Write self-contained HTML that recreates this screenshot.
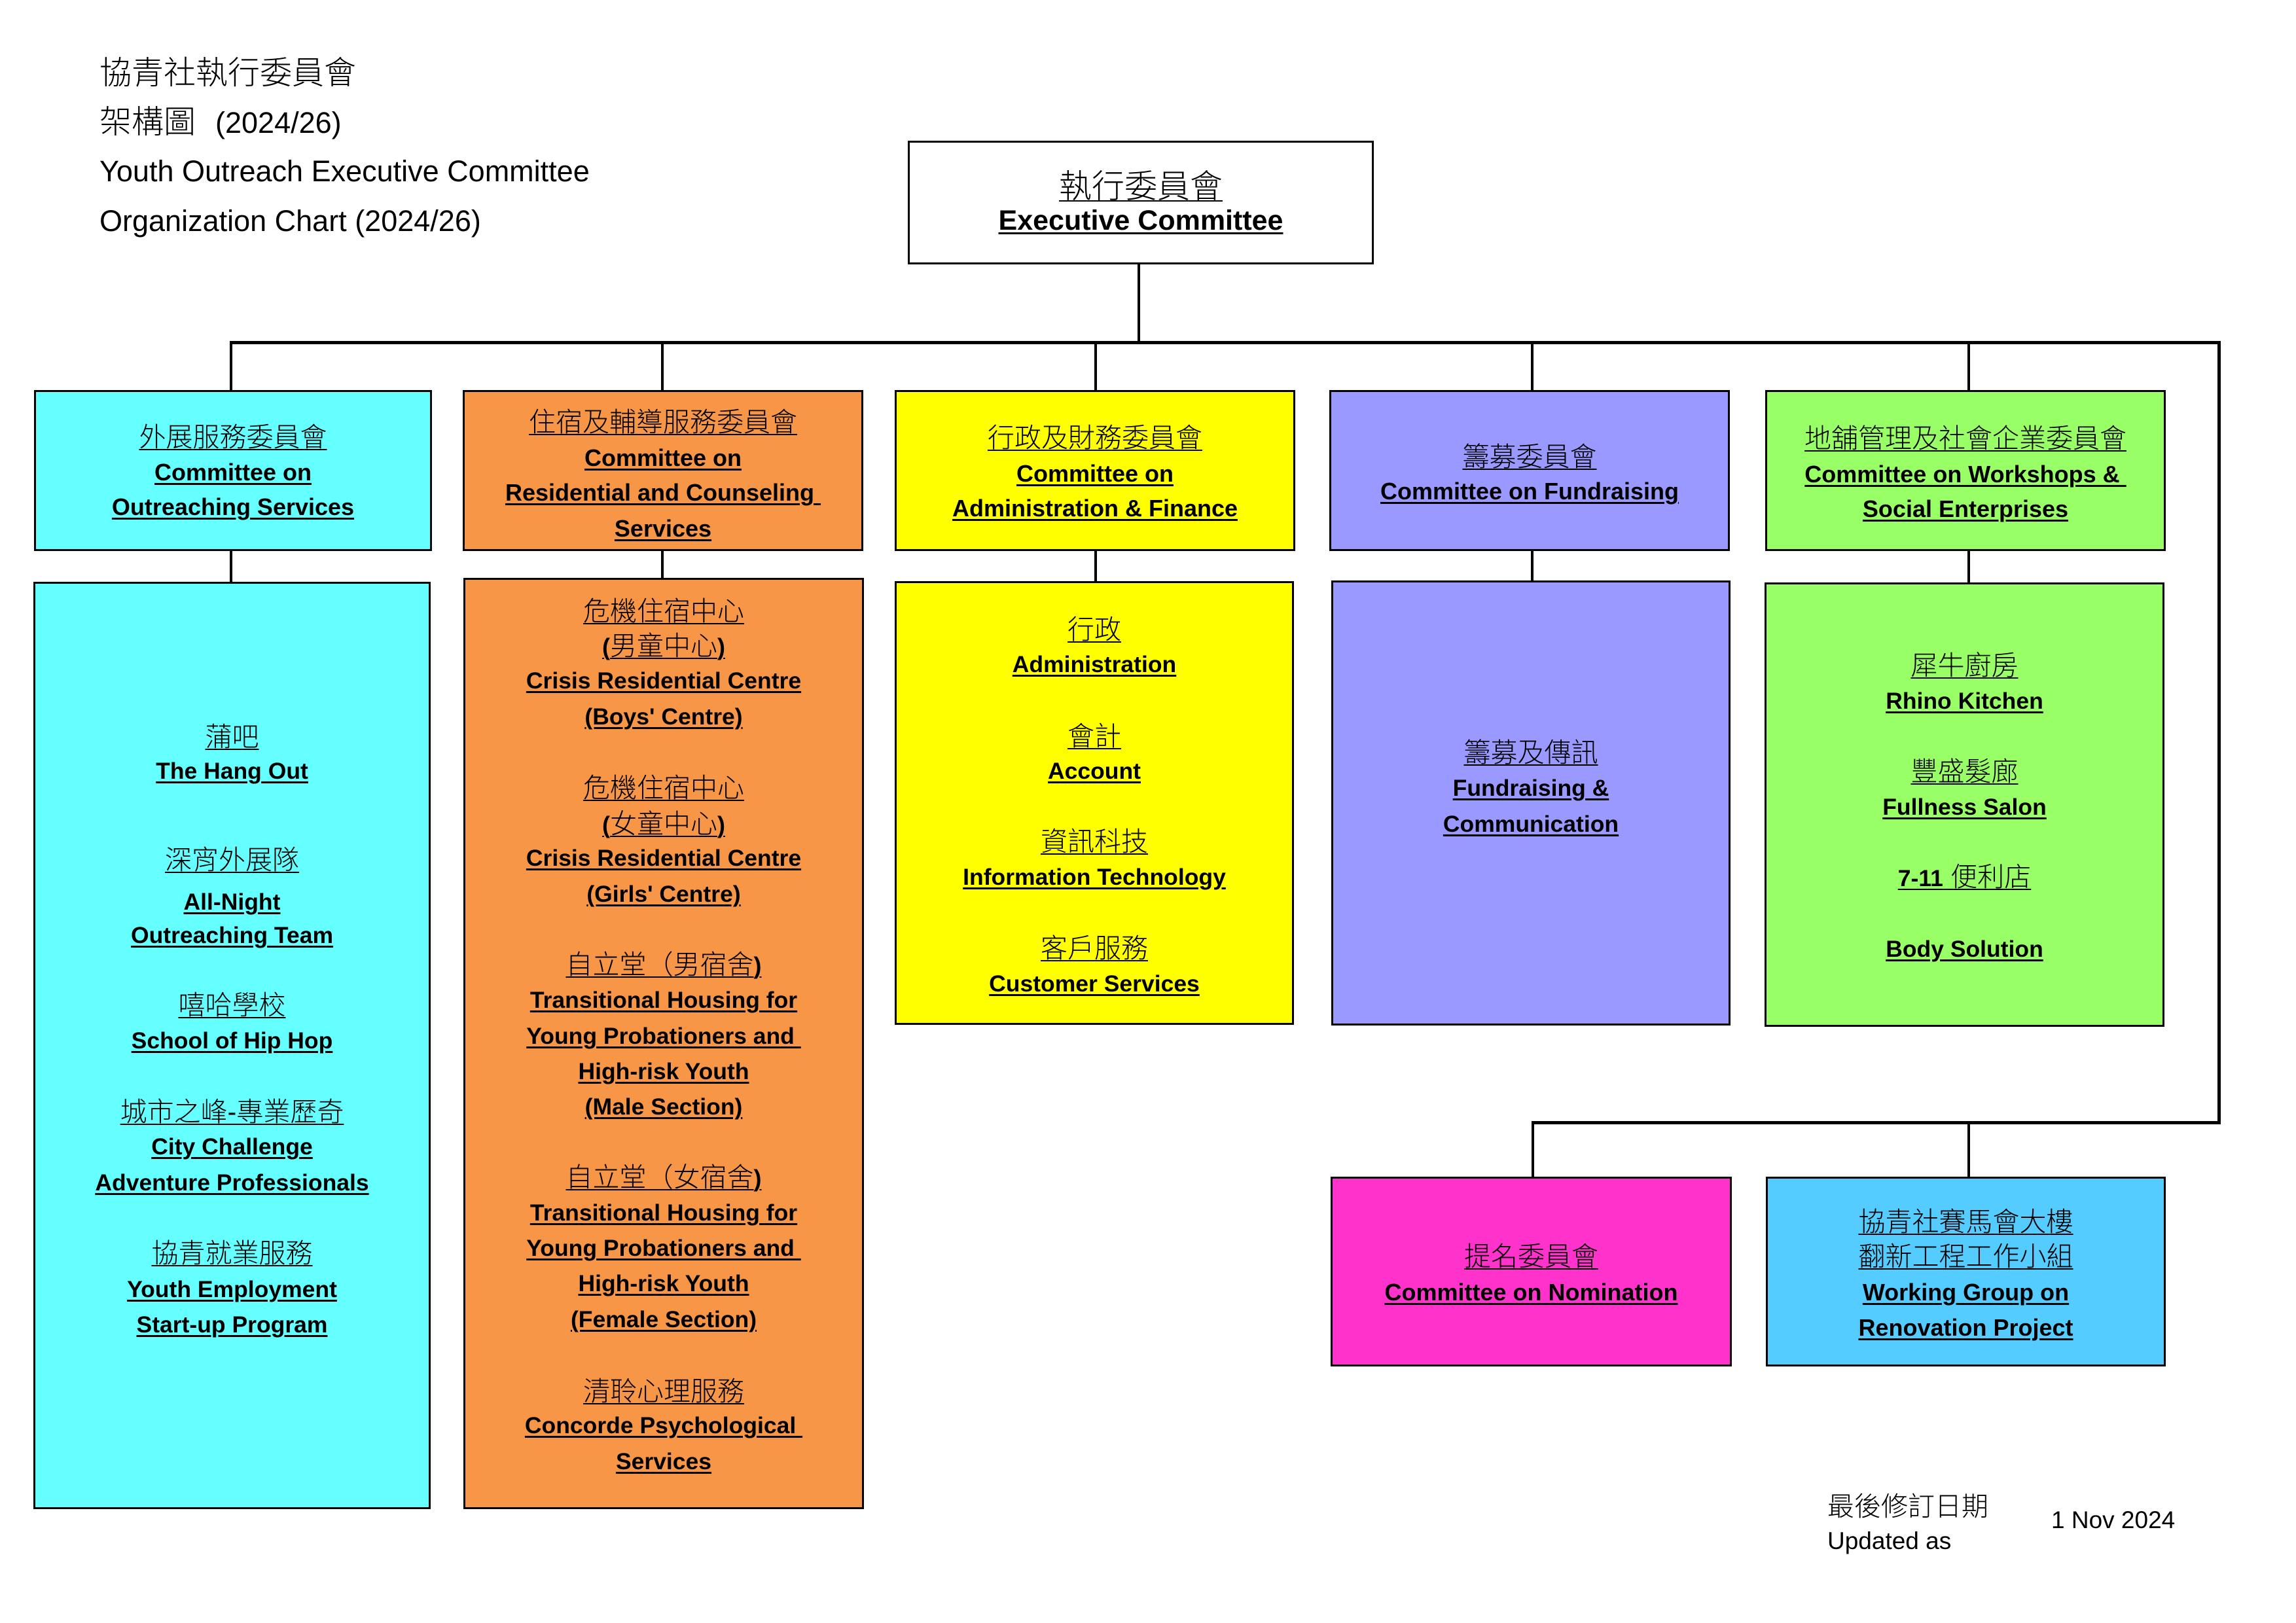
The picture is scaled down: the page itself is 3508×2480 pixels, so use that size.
<!DOCTYPE html>
<html>
<head>
<meta charset="utf-8">
<style>
html,body{margin:0;padding:0;}
body{width:3508px;height:2480px;background:#fff;position:relative;overflow:hidden;font-family:"Liberation Sans","Noto Sans CJK TC",sans-serif;color:#000;}
.b{position:absolute;border:3px solid #000;box-sizing:border-box;}
.v{position:absolute;background:#000;width:4px;}
.h{position:absolute;background:#000;height:5px;}
.t{position:absolute;text-align:center;height:50px;line-height:50px;white-space:nowrap;}
.c{font-size:41px;font-weight:300;text-decoration:underline;text-decoration-thickness:2px;text-underline-offset:4px;}
.e{font-size:36px;font-weight:bold;text-decoration:underline;text-decoration-thickness:3px;text-underline-offset:4px;}
.e2{font-size:35.5px;font-weight:bold;text-decoration:underline;text-decoration-thickness:3px;text-underline-offset:4px;}
.c b{font-size:36px;font-weight:bold;}
.ti{position:absolute;left:152px;height:50px;line-height:50px;white-space:nowrap;}
.lt{font-weight:300;}
.cy{background:#66FFFF;} .or{background:#F79646;} .ye{background:#FFFF00;} .pu{background:#9999FF;} .gr{background:#99FF66;} .pk{background:#FF33CC;} .bl{background:#55CCFF;}
</style>
</head>
<body>

<!-- Title -->
<div class="ti lt" style="top:87px;font-size:49px;">協青社執行委員會</div>
<div class="ti" style="top:162px;font-size:49px;"><span class="lt">架構圖</span><span style="font-size:45px;margin-left:30px;">(2024/26)</span></div>
<div class="ti" style="top:237px;font-size:45px;">Youth Outreach Executive Committee</div>
<div class="ti" style="top:313px;font-size:45px;">Organization Chart (2024/26)</div>

<!-- Connectors -->
<div class="v" style="left:1738px;top:404px;height:119px;"></div>
<div class="h" style="left:351px;top:521px;width:3042px;"></div>
<div class="v" style="left:3388px;top:521px;width:5px;height:1197px;"></div>
<div class="h" style="left:2340px;top:1713px;width:1053px;"></div>

<div class="v" style="left:351px;top:524px;height:73px;"></div>
<div class="v" style="left:1010px;top:524px;height:73px;"></div>
<div class="v" style="left:1672px;top:524px;height:73px;"></div>
<div class="v" style="left:2339px;top:524px;height:73px;"></div>
<div class="v" style="left:3006px;top:524px;height:73px;"></div>

<div class="v" style="left:351px;top:841px;height:49px;"></div>
<div class="v" style="left:1010px;top:841px;height:43px;"></div>
<div class="v" style="left:1672px;top:841px;height:48px;"></div>
<div class="v" style="left:2339px;top:841px;height:47px;"></div>
<div class="v" style="left:3006px;top:841px;height:50px;"></div>

<div class="v" style="left:2340px;top:1716px;height:83px;"></div>
<div class="v" style="left:3006px;top:1716px;height:83px;"></div>

<!-- Executive box -->
<div class="b" style="left:1387px;top:215px;width:712px;height:189px;background:#fff;"></div>
<div class="t" style="left:1387px;width:712px;top:260px;font-size:50px;font-weight:300;text-decoration:underline;text-decoration-thickness:2px;text-underline-offset:4px;">執行委員會</div>
<div class="t" style="left:1387px;width:712px;top:312px;font-size:43px;font-weight:bold;text-decoration:underline;text-decoration-thickness:3px;text-underline-offset:4px;">Executive Committee</div>

<!-- Level 1 boxes -->
<div class="b cy" style="left:52px;top:596px;width:608px;height:246px;"></div>
<div class="b or" style="left:707px;top:596px;width:612px;height:246px;"></div>
<div class="b ye" style="left:1367px;top:596px;width:612px;height:246px;"></div>
<div class="b pu" style="left:2031px;top:596px;width:612px;height:246px;"></div>
<div class="b gr" style="left:2697px;top:596px;width:612px;height:246px;"></div>

<div class="t c" style="left:52px;width:608px;top:643px;">外展服務委員會</div>
<div class="t e" style="left:52px;width:608px;top:697px;">Committee on</div>
<div class="t e" style="left:52px;width:608px;top:750px;">Outreaching Services</div>

<div class="t c" style="left:707px;width:612px;top:620px;">住宿及輔導服務委員會</div>
<div class="t e" style="left:707px;width:612px;top:675px;">Committee on</div>
<div class="t e" style="left:707px;width:612px;top:728px;">Residential and Counseling&nbsp;</div>
<div class="t e" style="left:707px;width:612px;top:783px;">Services</div>

<div class="t c" style="left:1367px;width:612px;top:644px;">行政及財務委員會</div>
<div class="t e" style="left:1367px;width:612px;top:699px;">Committee on</div>
<div class="t e" style="left:1367px;width:612px;top:752px;">Administration &amp; Finance</div>

<div class="t c" style="left:2031px;width:612px;top:673px;">籌募委員會</div>
<div class="t e" style="left:2031px;width:612px;top:726px;">Committee on Fundraising</div>

<div class="t c" style="left:2697px;width:612px;top:645px;">地舖管理及社會企業委員會</div>
<div class="t e" style="left:2697px;width:612px;top:700px;">Committee on Workshops &amp;&nbsp;</div>
<div class="t e" style="left:2697px;width:612px;top:753px;">Social Enterprises</div>

<!-- Level 2 boxes -->
<div class="b cy" style="left:51px;top:889px;width:607px;height:1417px;"></div>
<div class="b or" style="left:708px;top:883px;width:612px;height:1423px;"></div>
<div class="b ye" style="left:1367px;top:888px;width:610px;height:678px;"></div>
<div class="b pu" style="left:2034px;top:887px;width:610px;height:680px;"></div>
<div class="b gr" style="left:2696px;top:890px;width:611px;height:679px;"></div>

<!-- Cyan L2 -->
<div class="t c" style="left:51px;width:607px;top:1101px;">蒲吧</div>
<div class="t e2" style="left:51px;width:607px;top:1153px;">The Hang Out</div>
<div class="t c" style="left:51px;width:607px;top:1289px;">深宵外展隊</div>
<div class="t e2" style="left:51px;width:607px;top:1353px;">All-Night</div>
<div class="t e2" style="left:51px;width:607px;top:1404px;">Outreaching Team</div>
<div class="t c" style="left:51px;width:607px;top:1511px;">嘻哈學校</div>
<div class="t e2" style="left:51px;width:607px;top:1565px;">School of Hip Hop</div>
<div class="t c" style="left:51px;width:607px;top:1674px;">城市之峰-專業歷奇</div>
<div class="t e2" style="left:51px;width:607px;top:1727px;">City Challenge</div>
<div class="t e2" style="left:51px;width:607px;top:1782px;">Adventure Professionals</div>
<div class="t c" style="left:51px;width:607px;top:1890px;">協青就業服務</div>
<div class="t e2" style="left:51px;width:607px;top:1945px;">Youth Employment</div>
<div class="t e2" style="left:51px;width:607px;top:1999px;">Start-up Program</div>

<!-- Orange L2 -->
<div class="t c" style="left:708px;width:612px;top:909px;">危機住宿中心</div>
<div class="t c" style="left:708px;width:612px;top:962px;"><b>(</b>男童中心<b>)</b></div>
<div class="t e2" style="left:708px;width:612px;top:1015px;">Crisis Residential Centre</div>
<div class="t e2" style="left:708px;width:612px;top:1070px;">(Boys' Centre)</div>
<div class="t c" style="left:708px;width:612px;top:1179px;">危機住宿中心</div>
<div class="t c" style="left:708px;width:612px;top:1234px;"><b>(</b>女童中心<b>)</b></div>
<div class="t e2" style="left:708px;width:612px;top:1286px;">Crisis Residential Centre</div>
<div class="t e2" style="left:708px;width:612px;top:1341px;">(Girls' Centre)</div>
<div class="t c" style="left:708px;width:612px;top:1449px;">自立堂（男宿舍<b>)</b></div>
<div class="t e2" style="left:708px;width:612px;top:1503px;">Transitional Housing for</div>
<div class="t e2" style="left:708px;width:612px;top:1558px;">Young Probationers and&nbsp;</div>
<div class="t e2" style="left:708px;width:612px;top:1612px;">High-risk Youth</div>
<div class="t e2" style="left:708px;width:612px;top:1666px;">(Male Section)</div>
<div class="t c" style="left:708px;width:612px;top:1774px;">自立堂（女宿舍<b>)</b></div>
<div class="t e2" style="left:708px;width:612px;top:1828px;">Transitional Housing for</div>
<div class="t e2" style="left:708px;width:612px;top:1882px;">Young Probationers and&nbsp;</div>
<div class="t e2" style="left:708px;width:612px;top:1936px;">High-risk Youth</div>
<div class="t e2" style="left:708px;width:612px;top:1991px;">(Female Section)</div>
<div class="t c" style="left:708px;width:612px;top:2101px;">清聆心理服務</div>
<div class="t e2" style="left:708px;width:612px;top:2153px;">Concorde Psychological&nbsp;</div>
<div class="t e2" style="left:708px;width:612px;top:2208px;">Services</div>

<!-- Yellow L2 -->
<div class="t c" style="left:1367px;width:610px;top:937px;">行政</div>
<div class="t e2" style="left:1367px;width:610px;top:990px;">Administration</div>
<div class="t c" style="left:1367px;width:610px;top:1100px;">會計</div>
<div class="t e2" style="left:1367px;width:610px;top:1153px;">Account</div>
<div class="t c" style="left:1367px;width:610px;top:1261px;">資訊科技</div>
<div class="t e2" style="left:1367px;width:610px;top:1315px;">Information Technology</div>
<div class="t c" style="left:1367px;width:610px;top:1424px;">客戶服務</div>
<div class="t e2" style="left:1367px;width:610px;top:1478px;">Customer Services</div>

<!-- Purple L2 -->
<div class="t c" style="left:2034px;width:610px;top:1125px;">籌募及傳訊</div>
<div class="t e2" style="left:2034px;width:610px;top:1179px;">Fundraising &amp;</div>
<div class="t e2" style="left:2034px;width:610px;top:1234px;">Communication</div>

<!-- Green L2 -->
<div class="t c" style="left:2696px;width:611px;top:992px;">犀牛廚房</div>
<div class="t e2" style="left:2696px;width:611px;top:1046px;">Rhino Kitchen</div>
<div class="t c" style="left:2696px;width:611px;top:1154px;">豐盛髮廊</div>
<div class="t e2" style="left:2696px;width:611px;top:1208px;">Fullness Salon</div>
<div class="t c" style="left:2696px;width:611px;top:1315px;"><b style="font-size:35.5px;">7-11</b> 便利店</div>
<div class="t e2" style="left:2696px;width:611px;top:1425px;">Body Solution</div>

<!-- Pink & Blue -->
<div class="b pk" style="left:2033px;top:1798px;width:613px;height:290px;"></div>
<div class="b bl" style="left:2698px;top:1798px;width:611px;height:290px;"></div>

<div class="t c" style="left:2033px;width:613px;top:1895px;">提名委員會</div>
<div class="t e" style="left:2033px;width:613px;top:1950px;">Committee on Nomination</div>

<div class="t c" style="left:2698px;width:611px;top:1842px;">協青社賽馬會大樓</div>
<div class="t c" style="left:2698px;width:611px;top:1895px;">翻新工程工作小組</div>
<div class="t e" style="left:2698px;width:611px;top:1950px;">Working Group on</div>
<div class="t e" style="left:2698px;width:611px;top:2004px;">Renovation Project</div>

<!-- Date -->
<div class="t lt" style="left:2792px;top:2277px;font-size:41px;text-align:left;">最後修訂日期</div>
<div class="t" style="left:2792px;top:2330px;font-size:37px;text-align:left;">Updated as</div>
<div class="t" style="left:3134px;top:2298px;font-size:37px;text-align:left;">1 Nov 2024</div>

</body>
</html>
